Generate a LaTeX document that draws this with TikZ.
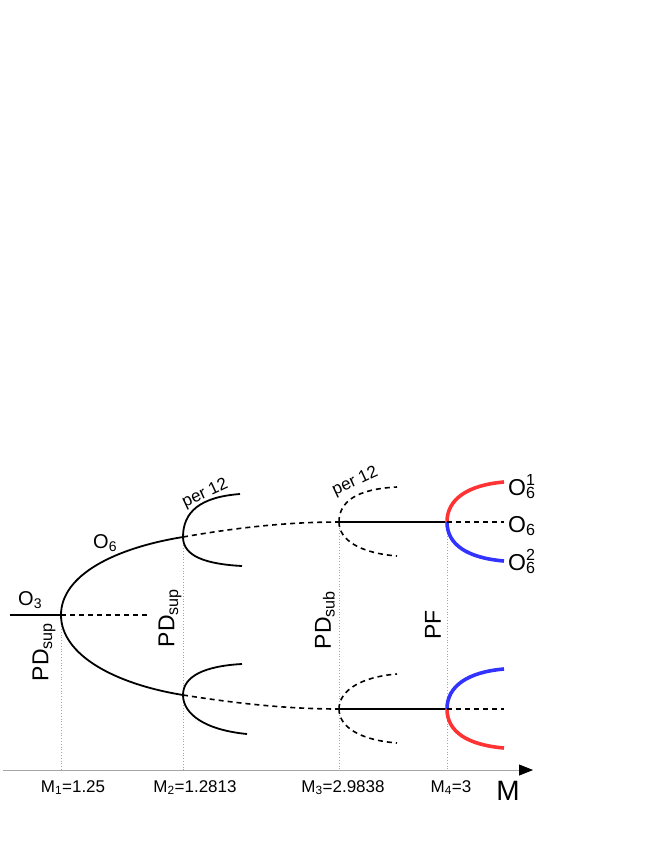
\documentclass[tikz,border=0pt]{standalone}
\usepackage{fontspec}
\setmainfont{Liberation Sans}
\usetikzlibrary{arrows.meta}
\newcommand{\orbsub}[2]{O\rlap{\textsuperscript{#1}}\textsubscript{#2}}

\begin{document}
\begin{tikzpicture}[x=1pt,y=-1pt,
                stable/.style = {black, line width=1.8pt},
                unstable/.style = {black, line width=1.6pt, dash pattern=on 5pt off 4pt},
                redbranch/.style = {color={rgb,255:red,255;green,51;blue,51}, line width=3.6pt},
                bluebranch/.style = {color={rgb,255:red,51;green,51;blue,255}, line width=3.6pt},
                marker/.style = {gray!70, line width=0.8pt, dotted},
                orblabel/.style = {anchor=base west, inner sep=0pt, font=\fontsize{20}{24}\selectfont},
                biglabel/.style = {anchor=base west, inner sep=0pt, font=\fontsize{23}{27}\selectfont},
                bif/.style = {rotate=90, inner sep=0pt, font=\fontsize{23}{27}\selectfont},
                periodlabel/.style = {rotate=25, anchor=base west, inner sep=0pt, font=\fontsize{17}{20}\selectfont},
                axlabel/.style = {anchor=base, inner sep=0pt, font=\fontsize{17}{20}\selectfont}]
            \useasboundingbox (0,0) rectangle (654,846);
            % bifurcation points
            \coordinate (o3) at (10,615);
            \coordinate (bp1) at (61,615);
            \coordinate (o3end) at (147,615);
            \coordinate (bp2u) at (183,537);
            \coordinate (bp2d) at (183,695);
            \coordinate (bp3u) at (339,522);
            \coordinate (bp3d) at (339,709);
            \coordinate (bp4u) at (447,522);
            \coordinate (bp4d) at (447,709);
            % axis
            \coordinate (ax0) at (3,770);
            \coordinate (axend) at (533,770);
            \coordinate (ax1) at (61,770);
            \coordinate (ax2) at (183,770);
            \coordinate (ax3) at (339,770);
            \coordinate (ax4) at (447,770);
            \draw[marker] (bp1) -- (ax1);
            \draw[marker] (bp2u) -- (ax2);
            \draw[marker] (bp3u) -- (ax3);
            \draw[marker] (bp4u) -- (ax4);
            \draw[gray!70, line width=0.8pt, -{Triangle[black,length=14pt,width=11pt]}] (ax0) -- (axend);
            % period 3 and period 6
            \draw[stable] (o3) -- (bp1);
            \draw[unstable] (bp1) -- (o3end);
            \draw[stable] (bp1) .. controls (61,575) and (115,548) .. (bp2u);
            \draw[stable] (bp1) .. controls (61,655) and (115,684) .. (bp2d);
            % first period doubling
            \coordinate (p2a) at (240,494);
            \coordinate (p2b) at (242,566);
            \coordinate (p2c) at (242,664);
            \coordinate (p2d) at (247,734);
            \draw[stable] (bp2u) .. controls (183,512) and (200,497) .. (p2a);
            \draw[stable] (bp2u) .. controls (183,556) and (205,564) .. (p2b);
            \draw[stable] (bp2d) .. controls (183,676) and (205,666) .. (p2c);
            \draw[stable] (bp2d) .. controls (183,714) and (205,730) .. (p2d);
            \draw[unstable] (bp2u) .. controls (240,527) and (290,522) .. (bp3u);
            \draw[unstable] (bp2d) .. controls (240,704) and (290,709) .. (bp3d);
            % subcritical period doubling
            \coordinate (p3a) at (397,487);
            \coordinate (p3b) at (397,556);
            \coordinate (p3c) at (397,674);
            \coordinate (p3d) at (397,743);
            \draw[unstable] (bp3u) .. controls (339,502) and (356,489) .. (p3a);
            \draw[unstable] (bp3u) .. controls (339,540) and (360,553) .. (p3b);
            \draw[unstable] (bp3d) .. controls (339,691) and (360,677) .. (p3c);
            \draw[unstable] (bp3d) .. controls (339,727) and (360,740) .. (p3d);
            \draw[black, line width=1.4pt] (bp3u) -- (bp4u);
            \draw[black, line width=1.4pt] (bp3d) -- (bp4d);
            % pitchfork
            \coordinate (p4a) at (504,482);
            \coordinate (p4b) at (504,522);
            \coordinate (p4c) at (504,561);
            \coordinate (p4d) at (504,669);
            \coordinate (p4e) at (504,709);
            \coordinate (p4f) at (504,748);
            \draw[redbranch] (bp4u) .. controls (447,499) and (468,485) .. (p4a);
            \draw[bluebranch] (bp4u) .. controls (447,545) and (468,558) .. (p4c);
            \draw[bluebranch] (bp4d) .. controls (447,686) and (468,672) .. (p4d);
            \draw[redbranch] (bp4d) .. controls (447,732) and (468,745) .. (p4f);
            \draw[unstable] (bp4u) -- (p4b);
            \draw[unstable] (bp4d) -- (p4e);
            % labels
            \node[orblabel] (lo3) at (18,605) {O\textsubscript{3}};
            \node[orblabel] (lo6) at (93,548) {O\textsubscript{6}};
            \node[biglabel] (lo61) at (508,495) {\orbsub{1}{6}};
            \node[biglabel] (lo6r) at (508,532) {O\textsubscript{6}};
            \node[biglabel] (lo62) at (508,570) {\orbsub{2}{6}};
            \node[periodlabel] (per1) at (185,508) {per 12};
            \node[periodlabel] (per2) at (335,496) {per 12};
            \node[bif] (pd1) at (44,652) {PD\textsubscript{sup}};
            \node[bif] (pd2) at (170,618) {PD\textsubscript{sup}};
            \node[bif] (pd3) at (325,620) {PD\textsubscript{sub}};
            \node[bif] (pf) at (433,625) {PF};
            \node[axlabel] (m1) at (73,792) {M\textsubscript{1}=1.25};
            \node[axlabel] (m2) at (195,792) {M\textsubscript{2}=1.2813};
            \node[axlabel] (m3) at (343,792) {M\textsubscript{3}=2.9838};
            \node[axlabel] (m4) at (451,792) {M\textsubscript{4}=3};
            \node[anchor=base, inner sep=0pt, font=\fontsize{28}{32}\selectfont] (mlab) at (508,800) {M};
\end{tikzpicture}
\end{document}
